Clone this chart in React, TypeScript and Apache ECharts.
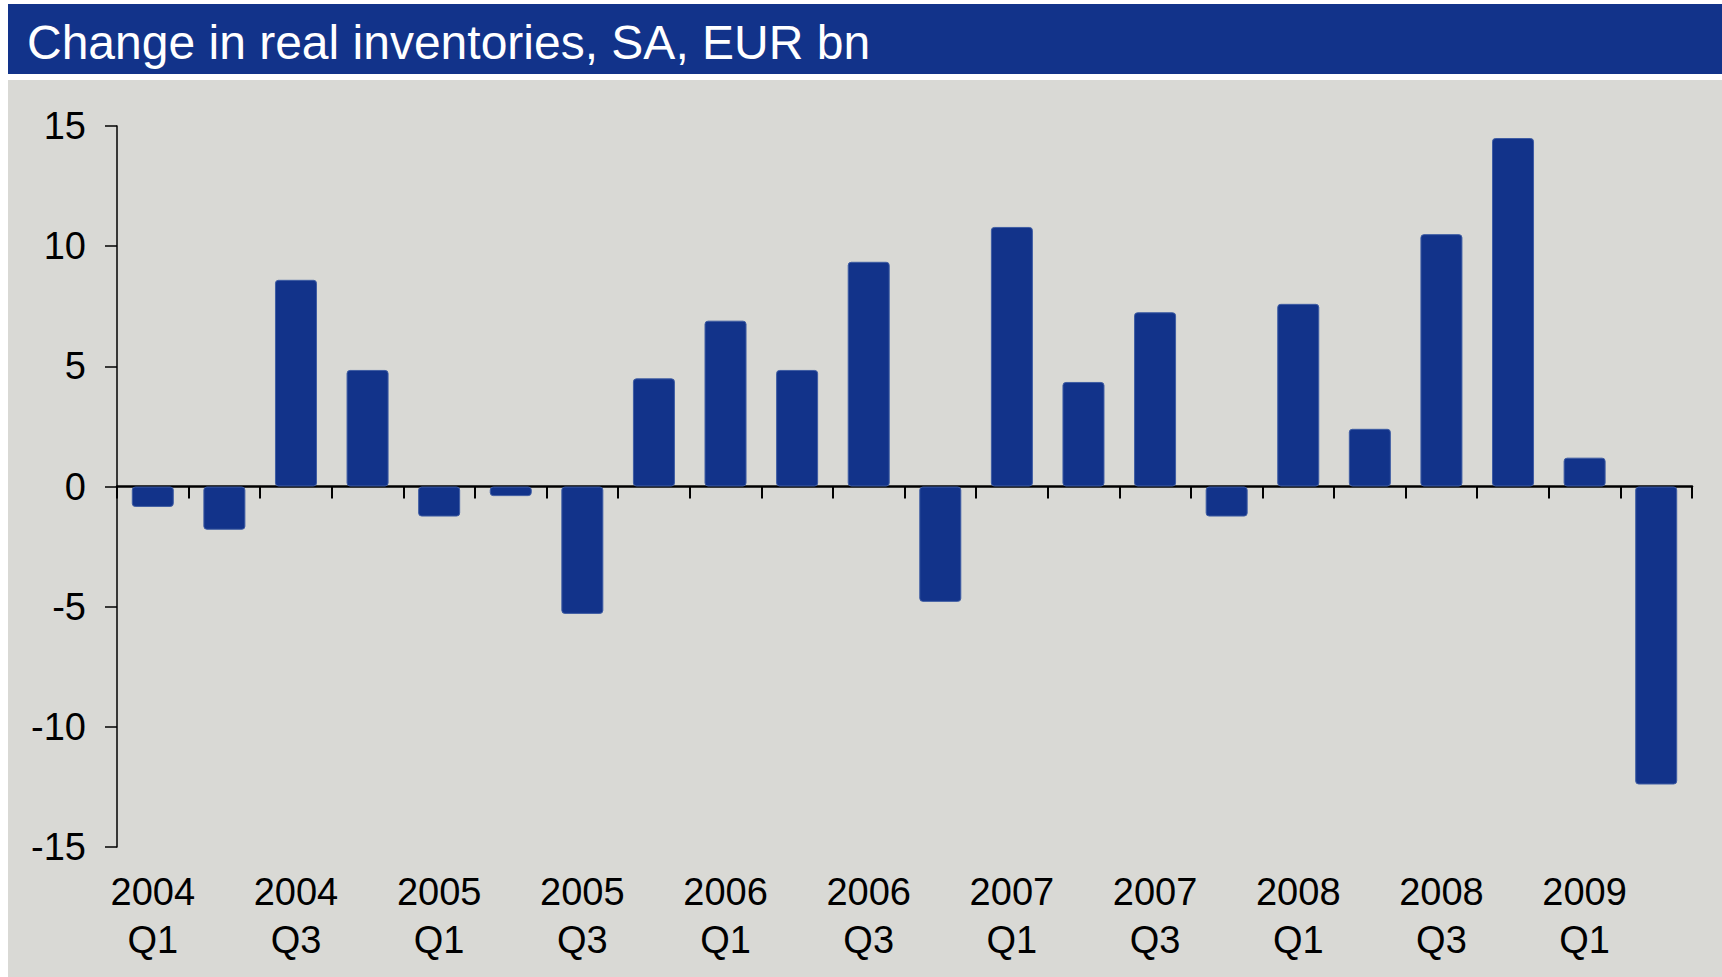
import React, { useEffect, useRef } from "react";
import * as echarts from "echarts";

const categories = [
  "2004 Q1", "2004 Q2", "2004 Q3", "2004 Q4",
  "2005 Q1", "2005 Q2", "2005 Q3", "2005 Q4",
  "2006 Q1", "2006 Q2", "2006 Q3", "2006 Q4",
  "2007 Q1", "2007 Q2", "2007 Q3", "2007 Q4",
  "2008 Q1", "2008 Q2", "2008 Q3", "2008 Q4",
  "2009 Q1", "2009 Q2",
];

const inventoryChange = [
  -0.85, -1.8, 8.6, 4.85,
  -1.25, -0.4, -5.3, 4.5,
  6.9, 4.85, 9.35, -4.8,
  10.8, 4.35, 7.25, -1.25,
  7.6, 2.4, 10.5, 14.5,
  1.2, -12.4,
];

const yTicks = { min: -15, max: 15, interval: 5 };

const titleText = "Change in real inventories, SA, EUR bn";

const BLUE = "#12338A";
const GRAY = "#D9D9D5";
const FONT = "'Liberation Sans', Arial, sans-serif";

export default function App() {
  const ref = useRef<HTMLDivElement>(null);

  useEffect(() => {
    if (!ref.current) return;
    const chart = echarts.init(ref.current, undefined, { renderer: "svg" });
    chart.setOption({
      animation: false,
      backgroundColor: "#ffffff",
      graphic: [
        {
          type: "rect",
          z: -10,
          shape: { x: 8, y: 4, width: 1714, height: 70 },
          style: { fill: BLUE },
          silent: true,
        },
        {
          type: "rect",
          z: -10,
          shape: { x: 8, y: 80, width: 1714, height: 897 },
          style: { fill: GRAY },
          silent: true,
        },
      ],
      title: {
        text: titleText,
        left: 27,
        top: 18,
        padding: 0,
        textStyle: {
          color: "#ffffff",
          fontSize: 48,
          fontWeight: "normal",
          fontFamily: FONT,
        },
      },
      grid: {
        left: 117,
        right: 30,
        top: 126,
        height: 721,
        containLabel: false,
      },
      xAxis: [
        {
          type: "category",
          data: categories,
          position: "bottom",
          axisLine: { onZero: true, lineStyle: { color: "#000000", width: 2.5 } },
          axisTick: { show: true, length: 12, lineStyle: { color: "#000000", width: 2 } },
          axisLabel: { show: false },
          splitLine: { show: false },
        },
        {
          type: "category",
          data: categories,
          position: "bottom",
          axisLine: { show: false, onZero: false },
          axisTick: { show: false },
          splitLine: { show: false },
          axisLabel: {
            show: true,
            interval: 1,
            margin: 21,
            color: "#000000",
            fontSize: 38,
            lineHeight: 48,
            fontFamily: FONT,
            formatter: (v: string) => v.replace(" ", "\n"),
          },
        },
      ],
      yAxis: {
        type: "value",
        min: yTicks.min,
        max: yTicks.max,
        interval: yTicks.interval,
        axisLine: { show: true, onZero: false, lineStyle: { color: "#000000", width: 1.5 } },
        axisTick: { show: true, length: 12, lineStyle: { color: "#000000", width: 1.5 } },
        splitLine: { show: false },
        axisLabel: {
          color: "#000000",
          fontSize: 38,
          margin: 31,
          fontFamily: FONT,
        },
      },
      series: [
        {
          type: "bar",
          xAxisIndex: 0,
          data: inventoryChange,
          barWidth: 42,
          itemStyle: {
            color: BLUE,
            borderColor: "#3E5CA3",
            borderWidth: 1,
            borderRadius: 3,
          },
          z: 1,
        },
      ],
    });
    return () => chart.dispose();
  }, []);

  return (
    <div
      ref={ref}
      style={{ position: "absolute", left: 0, top: 0, width: 1722, height: 977 }}
    />
  );
}
